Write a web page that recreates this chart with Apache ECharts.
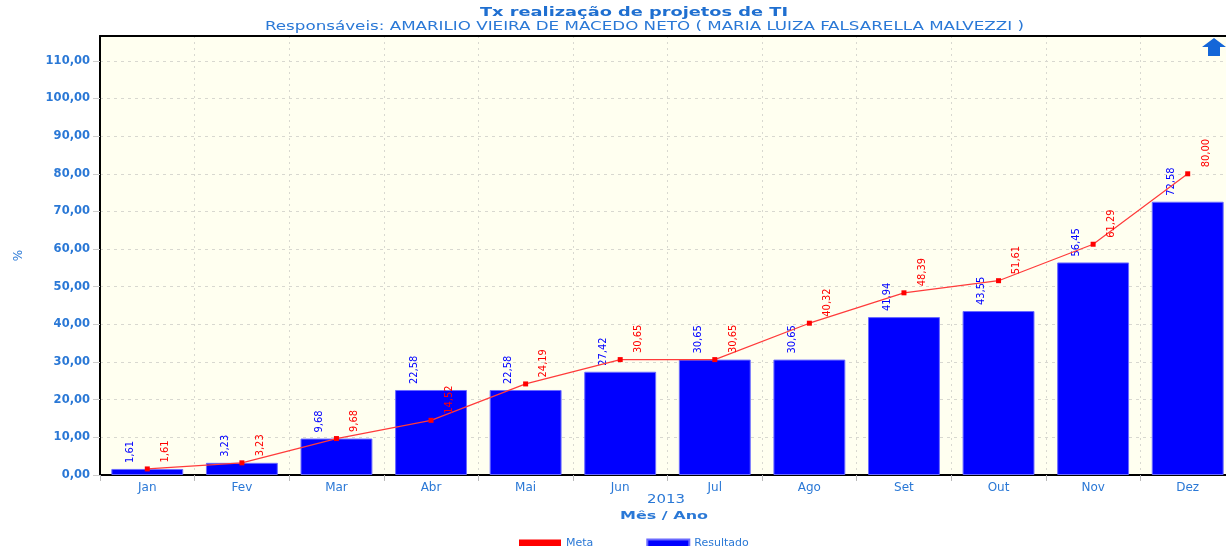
<!DOCTYPE html>
<html>
<head>
<meta charset="utf-8">
<script src="https://cdn.jsdelivr.net/npm/echarts@6/dist/echarts.min.js"></script>
<style>
html,body{margin:0;padding:0;background:#fff;}
#c{width:1226px;height:546px;}
</style>
</head>
<body>
<div id="c"></div>
<script>
const categories = ['Jan','Fev','Mar','Abr','Mai','Jun','Jul','Ago','Set','Out','Nov','Dez'];
const resultado = [1.61, 3.23, 9.68, 22.58, 22.58, 27.42, 30.65, 30.65, 41.94, 43.55, 56.45, 72.58];
const meta = [1.61, 3.23, 9.68, 14.52, 24.19, 30.65, 30.65, 40.32, 48.39, 51.61, 61.29, 80.00];
const yTicks = [0,10,20,30,40,50,60,70,80,90,100,110];
const titleText = 'Tx realização de projetos de TI';
const subtitleText = 'Responsáveis: AMARILIO VIEIRA DE MACEDO NETO ( MARIA LUIZA FALSARELLA MALVEZZI )';
const yearText = '2013';
const xAxisTitle = 'Mês / Ano';

const BLUE_TXT = '#2a78d6';
const fmt = v => v.toFixed(2).replace('.', ',');

// measure text to stretch it horizontally like the (stretched) reference rendering
const mctx = document.createElement('canvas').getContext('2d');
function stretched(text, font, left, top, targetW, fill) {
  mctx.font = font;
  const w = mctx.measureText(text).width;
  return {type: 'text', x: left, y: top, scaleX: targetW / w, z: 10,
          style: {text: text, font: font, fill: fill, textVerticalAlign: 'middle'}};
}

const chart = echarts.init(document.getElementById('c'), null, {renderer: 'canvas'});
chart.setOption({
  animation: false,
  backgroundColor: '#ffffff',
  legend: {
    left: 519, top: 538, padding: 0, itemWidth: 42, itemHeight: 8, itemGap: 53,
    textStyle: {color: BLUE_TXT, fontSize: 11, fontFamily: 'DejaVu Sans'},
    data: [{name: 'Meta', icon: 'rect', itemStyle: {color: '#ff0000'}}, {name: 'Resultado', icon: 'rect'}]
  },
  grid: {
    left: 100, top: 36, width: 1135, height: 439, outerBoundsMode: 'none',
    show: true, backgroundColor: '#fffff0', borderColor: '#000', borderWidth: 0
  },
  xAxis: [{
    type: 'category', data: categories,
    axisLine: {show: true, lineStyle: {color: '#000', width: 2}},
    axisTick: {show: true, length: 6, lineStyle: {color: '#bbb'}},
    axisLabel: {color: BLUE_TXT, fontSize: 12, fontFamily: 'DejaVu Sans', margin: 7},
    splitLine: {show: true, lineStyle: {color: '#d8d8d0', type: [2, 4]}}
  }, {
    type: 'category', data: categories, position: 'top',
    axisLine: {show: true, lineStyle: {color: '#000', width: 2}},
    axisTick: {show: false}, axisLabel: {show: false}, splitLine: {show: false}
  }],
  yAxis: {
    type: 'value', min: 0, max: 116.6, interval: 10,
    name: '%', nameLocation: 'middle', nameGap: 75, nameRotate: 90,
    nameTextStyle: {color: BLUE_TXT, fontSize: 12, fontFamily: 'DejaVu Sans'},
    axisLine: {show: true, lineStyle: {color: '#000', width: 2}},
    axisTick: {show: true, length: 7, lineStyle: {color: '#ccc'}},
    axisLabel: {
      color: BLUE_TXT, fontSize: 11.5, fontWeight: 'bold', fontFamily: 'DejaVu Sans', margin: 10,
      showMaxLabel: false,
      formatter: v => (yTicks.indexOf(v) >= 0 ? fmt(v) : '')
    },
    splitLine: {show: true, lineStyle: {color: '#d8d8d0', type: [3, 4]}}
  },
  series: [
    {
      name: 'Resultado', type: 'bar', data: resultado, barWidth: '76%', z: 2,
      itemStyle: {color: '#0000ff', borderColor: '#6a6aff', borderWidth: 1},
      label: {
        show: true, position: 'top', distance: 6, rotate: 90, align: 'left', verticalAlign: 'middle',
        offset: [0, -17], color: '#0000ff', fontSize: 11, fontFamily: 'DejaVu Sans Condensed',
        formatter: p => fmt(p.value)
      }
    },
    {
      name: 'Meta', type: 'line', data: meta, z: 3,
      symbol: 'rect', symbolSize: 5, showAllSymbol: true,
      lineStyle: {color: '#ff3b3b', width: 1.2},
      itemStyle: {color: '#ff0000'},
      label: {
        show: true, position: 'top', distance: 4, rotate: 90, align: 'left', verticalAlign: 'middle',
        offset: [0, 18], color: '#ff0000', fontSize: 11, fontFamily: 'DejaVu Sans Condensed',
        formatter: p => fmt(p.value)
      }
    }
  ],
  graphic: [
    stretched(titleText, 'bold 13px "DejaVu Sans"', 480, 13, 308, '#1f6fd0'),
    stretched(subtitleText, '12px "DejaVu Sans Condensed"', 265, 27, 759, BLUE_TXT),
    stretched(yearText, '12px "DejaVu Sans"', 647, 500, 38, BLUE_TXT),
    stretched(xAxisTitle, 'bold 11px "DejaVu Sans"', 620, 516, 88, BLUE_TXT),
    {type: 'polygon', z: 10, shape: {points: [[1214,38],[1226,47],[1220,47],[1220,56],[1208,56],[1208,47],[1202,47]]}, style: {fill: '#1466d8'}}
  ]
});
</script>
</body>
</html>
